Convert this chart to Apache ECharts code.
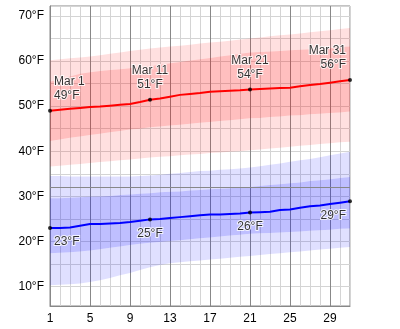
<!DOCTYPE html>
<html>
<head>
<meta charset="utf-8">
<script src="https://cdn.jsdelivr.net/npm/echarts@6/dist/echarts.min.js"></script>
<style>
    html, body { margin: 0; padding: 0; background: #fff; }
    #chart { width: 400px; height: 329px; }
</style>
</head>
<body>
<div id="chart"></div>
<script>
const days = [];
for (let d = 1; d <= 31; d++) days.push(String(d));

// mean daily high / low (°F)
const highMean = [49.0, 49.2, 49.4, 49.6, 49.8, 49.9, 50.1, 50.3, 50.5, 50.9, 51.4, 51.7, 52.1, 52.5, 52.7, 52.9,
    53.2, 53.3, 53.4, 53.5, 53.7, 53.8, 53.9, 54.0, 54.1, 54.4, 54.7, 54.9, 55.2, 55.5, 55.8];
const lowMean = [23.0, 23.0, 23.1, 23.5, 23.9, 23.9, 24.0, 24.1, 24.3, 24.6, 24.9, 25.0, 25.2, 25.4, 25.6, 25.8,
    26.0, 26.0, 26.1, 26.2, 26.4, 26.5, 26.6, 27.0, 27.1, 27.5, 27.8, 28.0, 28.3, 28.6, 28.9];

// high temperature bands (outer = 10-90%, inner = 25-75%)
const highOuterTop = [60.2, 60.4, 60.6, 60.8, 61.0, 61.3, 61.6, 61.9, 62.2, 62.5, 62.8, 63.0, 63.2, 63.4, 63.6, 63.9,
    64.1, 64.3, 64.5, 64.8, 65.0, 65.2, 65.5, 65.7, 65.9, 66.1, 66.4, 66.6, 66.8, 67.1, 67.3];
const highInnerTop = [55.4, 56.0, 56.6, 57.2, 57.5, 57.8, 58.0, 58.2, 58.4, 58.6, 58.9, 59.2, 59.5, 59.8, 60.1, 60.4,
    60.7, 61.0, 61.3, 61.6, 61.9, 62.0, 62.1, 62.2, 62.4, 62.5, 62.6, 62.8, 62.9, 63.1, 63.2];
const highInnerBottom = [42.3, 42.6, 43.0, 43.3, 43.6, 43.9, 44.2, 44.5, 44.8, 45.0, 45.3, 45.5, 45.7, 45.9, 46.1, 46.3,
    46.5, 46.7, 46.9, 47.1, 47.3, 47.4, 47.6, 47.7, 47.9, 48.0, 48.2, 48.3, 48.5, 48.6, 48.8];
const highOuterBottom = [36.6, 36.8, 37.0, 37.2, 37.4, 37.6, 37.8, 38.0, 38.2, 38.4, 38.6, 38.8, 38.9, 39.1, 39.3, 39.4,
    39.6, 39.7, 39.9, 40.0, 40.2, 40.4, 40.6, 40.8, 41.0, 41.2, 41.4, 41.6, 41.8, 42.0, 42.1];

// low temperature bands
const lowOuterTop = [34.5, 34.5, 34.4, 34.4, 34.4, 34.4, 34.4, 34.4, 34.4, 34.5, 34.6, 34.8, 35.0, 35.2, 35.4, 35.6,
    35.7, 35.9, 36.0, 36.2, 36.4, 36.7, 37.0, 37.3, 37.7, 38.0, 38.3, 38.7, 39.1, 39.5, 39.9];
const lowInnerTop = [29.6, 29.6, 29.7, 29.8, 29.9, 30.0, 30.1, 30.3, 30.4, 30.6, 30.7, 30.9, 31.0, 31.1, 31.3, 31.4,
    31.6, 31.7, 31.8, 32.0, 32.1, 32.3, 32.5, 32.7, 32.9, 33.1, 33.4, 33.6, 33.8, 34.1, 34.3];
const lowInnerBottom = [17.4, 17.5, 17.6, 17.8, 18.0, 18.3, 18.6, 18.9, 19.2, 19.5, 19.7, 19.9, 20.1, 20.3, 20.5, 20.7,
    20.9, 21.1, 21.3, 21.5, 21.7, 21.8, 21.9, 22.0, 22.1, 22.2, 22.4, 22.5, 22.6, 22.8, 22.9];
const lowOuterBottom = [10.3, 10.4, 10.5, 10.7, 11.0, 11.4, 11.9, 12.5, 13.0, 13.7, 14.3, 14.8, 15.2, 15.4, 15.6, 15.8,
    16.0, 16.2, 16.4, 16.6, 16.8, 17.0, 17.2, 17.4, 17.6, 17.8, 18.0, 18.2, 18.4, 18.6, 18.8];

const labelDays = [1, 11, 21, 31];
const yMin = 5.7;
const yMax = 72.2;
const freezing = 32;

const FONT = "Liberation Sans, Arial, sans-serif";

function diff(a, b) {
    return a.map((v, i) => +(v - b[i]).toFixed(2));
}

function bandSeries(stackName, outerBottom, innerBottom, innerTop, outerTop, light, dark) {
    const base = {
        type: "line",
        stack: stackName,
        symbol: "none",
        lineStyle: { width: 0, opacity: 0 },
        silent: true,
        z: 1
    };
    return [
        Object.assign({}, base, { data: outerBottom, areaStyle: { opacity: 0 } }),
        Object.assign({}, base, { data: diff(innerBottom, outerBottom), areaStyle: { color: light, opacity: 1 } }),
        Object.assign({}, base, { data: diff(innerTop, innerBottom), areaStyle: { color: dark, opacity: 1 } }),
        Object.assign({}, base, { data: diff(outerTop, innerTop), areaStyle: { color: light, opacity: 1 } })
    ];
}

function labelPoints(values, isHigh) {
    return labelDays.map((d, i) => {
        const v = values[d - 1];
        let align = "center";
        let offset = [0, 0];
        if (i === 0) { align = "left"; offset = [4, 0]; }
        if (i === labelDays.length - 1) { align = "right"; offset = [-4, 0]; }
        const temp = Math.round(v) + "°F";
        return {
            value: [String(d), v],
            label: {
                align: align,
                offset: offset,
                formatter: isHigh ? `Mar ${d}\n${temp}` : temp
            }
        };
    });
}

function labelSeries(values, isHigh) {
    return {
        type: "scatter",
        symbol: "circle",
        symbolSize: 4,
        itemStyle: { color: "#000" },
        z: 5,
        data: labelPoints(values, isHigh),
        label: {
            show: true,
            position: isHigh ? "top" : "bottom",
            distance: isHigh ? 6 : 5,
            color: "#000",
            fontFamily: FONT,
            fontSize: 12,
            lineHeight: 14,
            textBorderColor: "#fff",
            textBorderWidth: 2
        }
    };
}

const chart = echarts.init(document.getElementById("chart"));

const option = {
    animation: false,
    grid: {
        left: 50,
        right: 50,
        top: 6,
        bottom: 23,
        show: true,
        borderColor: "#888",
        borderWidth: 1
    },
    xAxis: [
        {
            type: "category",
            data: days,
            boundaryGap: false,
            axisLine: { lineStyle: { color: "#888" } },
            axisTick: { show: false },
            axisLabel: { interval: 3, margin: 7, color: "#000", fontFamily: FONT, fontSize: 12 },
            splitLine: {
                show: true,
                interval: (i) => i % 4 === 0,
                lineStyle: { color: "#888", width: 1 }
            }
        },
        {
            type: "category",
            data: days,
            boundaryGap: false,
            position: "bottom",
            axisLine: { show: false },
            axisTick: { show: false },
            axisLabel: { show: false },
            splitLine: {
                show: true,
                interval: (i) => i % 4 !== 0,
                lineStyle: { color: "#d4d4d4", width: 1 }
            }
        }
    ],
    yAxis: {
        type: "value",
        min: yMin,
        max: yMax,
        splitNumber: 13,
        minInterval: 5,
        maxInterval: 5,
        axisLine: { show: true, lineStyle: { color: "#888" } },
        axisTick: { show: false },
        axisLabel: {
            margin: 6,
            color: "#000",
            fontFamily: FONT,
            fontSize: 12,
            formatter: (v) => (Math.abs(v % 10) < 1e-6 ? v + "°F" : "")
        },
        splitLine: { lineStyle: { color: "#d4d4d4", width: 1 } }
    },
    series: [
        ...bandSeries("hi", highOuterBottom, highInnerBottom, highInnerTop, highOuterTop,
            "rgba(255,0,0,0.12)", "rgba(255,0,0,0.25)"),
        ...bandSeries("lo", lowOuterBottom, lowInnerBottom, lowInnerTop, lowOuterTop,
            "rgba(0,0,255,0.12)", "rgba(0,0,255,0.25)"),
        {
            type: "line",
            data: highMean,
            symbol: "none",
            lineStyle: { color: "#ff0000", width: 2 },
            z: 3
        },
        {
            type: "line",
            data: lowMean,
            symbol: "none",
            lineStyle: { color: "#0000ff", width: 2 },
            z: 3,
            markLine: {
                silent: true,
                symbol: ["none", "none"],
                label: { show: false },
                lineStyle: { color: "#888", type: "solid", width: 1 },
                data: [{ yAxis: freezing }]
            }
        },
        labelSeries(highMean, true),
        labelSeries(lowMean, false)
    ]
};

chart.setOption(option);
</script>
</body>
</html>
